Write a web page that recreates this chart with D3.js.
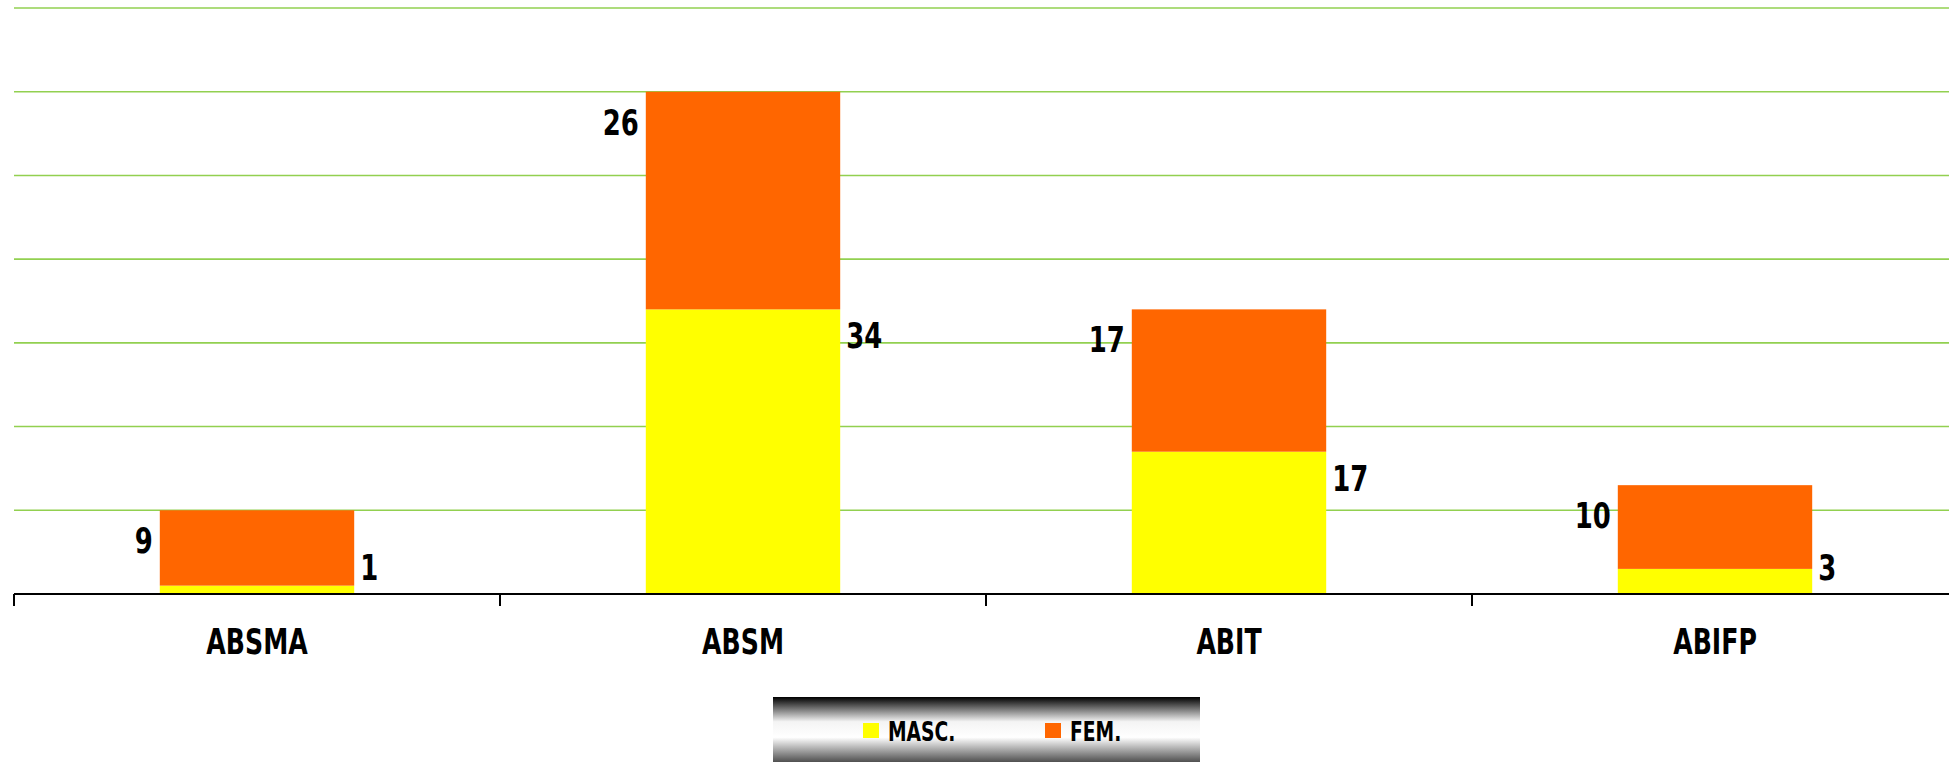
<!DOCTYPE html>
<html>
<head>
<meta charset="utf-8">
<script src="https://cdn.jsdelivr.net/npm/d3@7"></script>
<style>
  html, body { margin: 0; padding: 0; background: #ffffff; overflow: hidden; }
  svg { display: block; }
  text { font-family: 'Liberation Sans Narrow', 'DejaVu Sans Condensed', 'Arial Narrow', sans-serif; font-weight: bold; fill: #000; }
</style>
</head>
<body>
<svg id="chart" width="1949" height="762"></svg>
<script>
// ---- data ----
const categories = ["ABSMA", "ABSM", "ABIT", "ABIFP"];
const seriesNames = ["MASC.", "FEM."];
const masc = [1, 34, 17, 3];
const fem = [9, 26, 17, 10];
const yTicks = [10, 20, 30, 40, 50, 60, 70];
const colors = { "MASC.": "#FFFF00", "FEM.": "#FF6600" };

// ---- layout ----
const W = 1949, H = 762;
const plotLeft = 14, plotRight = 14 + 4 * 486, axisY = 594, plotTop = 8;
const SX = 0.8; // horizontal squeeze to mimic a condensed face

const svg = d3.select("#chart");

const x = d3.scaleBand().domain(categories).range([plotLeft, plotRight]).paddingInner(0.6).paddingOuter(0.3);
const y = d3.scaleLinear().domain([0, 70]).range([axisY, plotTop]);

const place = (fx, fy) => d => `translate(${fx(d)},${fy(d)}) scale(${SX},1)`;

// gridlines
svg.append("g").selectAll("line").data(yTicks).join("line")
  .attr("x1", plotLeft).attr("x2", W)
  .attr("y1", d => y(d)).attr("y2", d => y(d))
  .attr("stroke", "#92D050").attr("stroke-width", 1.6);

// stacked data
const rows = categories.map((c, i) => ({ cat: c, "MASC.": masc[i], "FEM.": fem[i] }));
const stack = d3.stack().keys(seriesNames)(rows);

svg.append("g").selectAll("g").data(stack).join("g")
  .attr("fill", d => colors[d.key])
  .selectAll("rect").data(d => d).join("rect")
  .attr("x", d => x(d.data.cat))
  .attr("width", x.bandwidth())
  .attr("y", d => y(d[1]))
  .attr("height", d => y(d[0]) - y(d[1]));

// data labels
const labG = svg.append("g").attr("font-size", 36);
labG.selectAll("text.fem").data(stack[1]).join("text")
  .attr("class", "fem")
  .attr("transform", place(d => x(d.data.cat) - 7, d => y(d[1]) + 43))
  .attr("text-anchor", "end")
  .text(d => d.data["FEM."]);
labG.selectAll("text.masc").data(stack[0]).join("text")
  .attr("class", "masc")
  .attr("transform", place(d => x(d.data.cat) + x.bandwidth() + 6, d => Math.min(y(d[1]) + 39, axisY - 14)))
  .attr("text-anchor", "start")
  .text(d => d.data["MASC."]);

// category axis
const step = x.step();
const boundaries = d3.range(categories.length + 1).map(i => plotLeft + i * step);
svg.append("line").attr("x1", plotLeft).attr("x2", W).attr("y1", axisY).attr("y2", axisY)
  .attr("stroke", "#000").attr("stroke-width", 2);
svg.append("g").selectAll("line").data(boundaries).join("line")
  .attr("x1", d => d).attr("x2", d => d).attr("y1", axisY).attr("y2", axisY + 12)
  .attr("stroke", "#000").attr("stroke-width", 2);
svg.append("g").selectAll("text").data(categories).join("text")
  .attr("transform", place(d => x(d) + x.bandwidth() / 2, () => 654))
  .attr("text-anchor", "middle")
  .attr("font-size", 35)
  .text(d => d);

// legend
const defs = svg.append("defs");
const grad = defs.append("linearGradient").attr("id", "lg").attr("x1", 0).attr("y1", 0).attr("x2", 0).attr("y2", 1);
grad.append("stop").attr("offset", "0%").attr("stop-color", "#000");
grad.append("stop").attr("offset", "38%").attr("stop-color", "#f4f4f4");
grad.append("stop").attr("offset", "62%").attr("stop-color", "#ffffff");
grad.append("stop").attr("offset", "100%").attr("stop-color", "#505050");

const leg = svg.append("g");
leg.append("rect").attr("x", 773).attr("y", 697).attr("width", 427).attr("height", 65).attr("fill", "url(#lg)");
const legX = [863, 1045];
seriesNames.forEach((s, i) => {
  leg.append("rect").attr("x", legX[i]).attr("y", 723).attr("width", 16).attr("height", 15).attr("fill", colors[s]);
  leg.append("text").attr("transform", `translate(${legX[i] + 25},741) scale(${SX},1)`).attr("font-size", 26).text(s);
});
</script>
</body>
</html>
